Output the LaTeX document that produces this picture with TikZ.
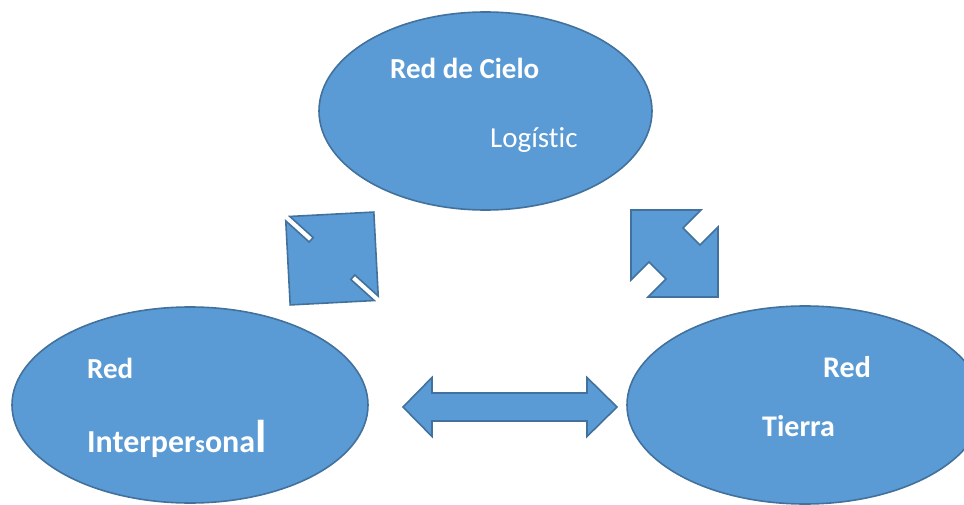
\documentclass[tikz,border=0pt]{standalone}
\usepackage{fontspec}
\setmainfont{Carlito}[Ligatures=NoCommon]
\usetikzlibrary{shapes.geometric}
\definecolor{blobfill}{HTML}{5B9BD5}
\definecolor{blobline}{HTML}{41719C}
\tikzset{
  blob/.style={ellipse, draw=blobline, fill=blobfill, line width=1.6pt, inner sep=0pt},
  boldtext/.style={anchor=base west, inner sep=0pt, text=white, font=\fontsize{29}{34}\selectfont\bfseries},
  lighttext/.style={anchor=base west, inner sep=0pt, text=white, font=\fontsize{29}{34}\selectfont},
  blockarrow/.style={draw=blobline, fill=blobfill, line width=1.6pt, line join=miter},
}
% double block arrow along the local x axis: tip distance L, half gap E,
% head half-width H, shaft half-width W
\newcommand{\dblarrow}[4]{%
  (-#1,0) -- (-#2,-#3) -- (-#2,-#4) -- (#2,-#4) -- (#2,-#3) -- (#1,0)
  -- (#2,#3) -- (#2,#4) -- (-#2,#4) -- (-#2,#3) -- cycle}
\begin{document}
\begin{tikzpicture}[x=1pt, y=-1pt]
  \useasboundingbox (0,0) rectangle (964,505);
  \clip (0,0) rectangle (964,505);

  % the three networks
  \node[blob, minimum width=333pt, minimum height=198pt] (cielo) at (485.5,111) {};
  \node[blob, minimum width=356pt, minimum height=196pt] (inter) at (190,405) {};
  \node[blob, minimum width=356pt, minimum height=198pt] (tierra) at (805,405) {};

  % labels
  \node[boldtext] (cieloA) at (390,79) {Red de Cielo};
  \node[lighttext] (cieloB) at (490,148) {Logístic};
  \node[boldtext] (interA) at (87,378) {Red};
  \node[boldtext, font=\fontsize{32}{36}\selectfont\bfseries] (interB) at (87,452)
    {Interper{\fontsize{24}{28}\selectfont s}ona{\fontsize{46}{50}\selectfont l}};
  \node[boldtext, font=\fontsize{30}{34}\selectfont\bfseries] (tierraA) at (823,377) {Red};
  \node[boldtext, font=\fontsize{30}{34}\selectfont\bfseries] (tierraB) at (762,436) {Tierra};

  % block arrows between the networks
  \draw[blockarrow] (403,407) -- (432,377.5) -- (432,393) -- (587,393) -- (587,377.5)
    -- (617,407) -- (587,436.5) -- (587,421) -- (432,421) -- (432,436.5) -- cycle;
  \begin{scope}[shift={(332,258.5)}, rotate=48]
    \draw[blockarrow] \dblarrow{62.5}{3}{59.5}{28};
  \end{scope}
  \begin{scope}[shift={(674.5,253.5)}, rotate=-45]
    \draw[blockarrow] \dblarrow{61.5}{12}{49.5}{24};
  \end{scope}
\end{tikzpicture}
\end{document}
